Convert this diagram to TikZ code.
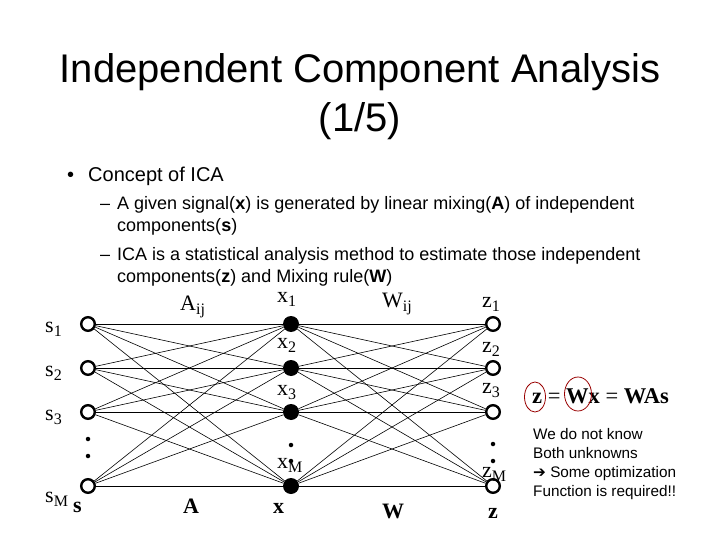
\documentclass[tikz,border=0pt]{standalone}
\usepackage{fontspec}
\setmainfont{Liberation Sans}
\newfontfamily\timesfont{Liberation Serif}
\newfontfamily\symfont{DejaVu Sans}
\usetikzlibrary{shapes.geometric, positioning}

\newcommand\lowsub[2]{#1\raisebox{-4pt}{\fontsize{16}{16}\selectfont #2}}

\begin{document}
\begin{tikzpicture}[
    x=1pt, y=-1pt,
    node distance=44pt and 203pt, on grid,
    srcnode/.style={circle, draw, line width=2.4pt, fill=white, minimum size=13.6pt, inner sep=0pt},
    mixnode/.style={circle, fill=black, minimum size=16pt, inner sep=0pt},
    vdot/.style={circle, fill=black, minimum size=4.5pt, inner sep=0pt},
    link/.style={line width=0.6pt},
    sym/.style={anchor=base west, inner sep=0pt, font=\timesfont\fontsize{22}{22}\selectfont},
    vec/.style={anchor=base west, inner sep=0pt, font=\timesfont\bfseries\fontsize{22}{22}\selectfont},
    line/.style={anchor=base west, inner sep=0pt, font=\fontsize{18}{21}\selectfont},
    ring/.style={ellipse, draw=red!60!black, line width=0.8pt, inner sep=0pt}
]
    \path[fill=white] (0,0) rectangle (720,540);

    % title and bullets
    \node[anchor=base, inner sep=0pt, font=\fontsize{40}{48}\selectfont] (title1) at (360,83) {Independent Component Analysis};
    \node[anchor=base, inner sep=0pt, font=\fontsize{40}{48}\selectfont] (title2) at (360,132) {(1/5)};
    \node[line, font=\fontsize{20}{24}\selectfont] (bul) at (67,182) {•};
    \node[line, font=\fontsize{20}{24}\selectfont] (concept) at (88,182) {Concept of ICA};
    \node[line] (dash1) at (100,210) {–};
    \node[line] (sub1a) at (117,210) {A given signal(\textbf{x}) is generated by linear mixing(\textbf{A}) of independent};
    \node[line] (sub1b) at (117,232) {components(\textbf{s})};
    \node[line] (dash2) at (100,260) {–};
    \node[line] (sub2a) at (117,260) {ICA is a statistical analysis method to estimate those independent};
    \node[line] (sub2b) at (117,282) {components(\textbf{z}) and Mixing rule(\textbf{W})};

    % network
    \node[srcnode] (s1) at (88,324) {};
    \node[srcnode, below=of s1] (s2) {};
    \node[srcnode, below=of s2] (s3) {};
    \node[srcnode, below=74pt of s3] (sM) {};
    \node[mixnode, right=of s1] (x1) {};
    \node[mixnode, right=of s2] (x2) {};
    \node[mixnode, right=of s3] (x3) {};
    \node[mixnode, right=of sM] (xM) {};
    \node[srcnode, right=202pt of x1] (z1) {};
    \node[srcnode, right=202pt of x2] (z2) {};
    \node[srcnode, right=202pt of x3] (z3) {};
    \node[srcnode, right=202pt of xM] (zM) {};

    \foreach \a in {s1,s2,s3,sM}
        \foreach \b in {x1,x2,x3,xM}
            \draw[link] (\a) -- (\b);
    \foreach \a in {x1,x2,x3,xM}
        \foreach \b in {z1,z2,z3,zM}
            \draw[link] (\a) -- (\b);

    \node[vdot] (sdot1) at (88,439) {};
    \node[vdot] (sdot2) at (88,456) {};
    \node[vdot] (xdot1) at (291,445) {};
    \node[vdot] (xdot2) at (291,461) {};
    \node[vdot] (zdot1) at (493,444) {};
    \node[vdot] (zdot2) at (493,461) {};

    % labels
    \node[sym] (s1lbl) at (45,332) {\lowsub{s}{1}};
    \node[sym] (s2lbl) at (45,376) {\lowsub{s}{2}};
    \node[sym] (s3lbl) at (45,420) {\lowsub{s}{3}};
    \node[sym] (sMlbl) at (45,502) {\lowsub{s}{M}};
    \node[vec] (svec) at (73,512) {s};
    \node[sym] (Alabel) at (180,310) {\lowsub{A}{ij}};
    \node[vec] (Avec) at (183,513) {A};
    \node[sym] (x1lbl) at (277,302) {\lowsub{x}{1}};
    \node[sym] (x2lbl) at (277,348) {\lowsub{x}{2}};
    \node[sym] (x3lbl) at (277,395) {\lowsub{x}{3}};
    \node[sym] (xMlbl) at (277,468) {\lowsub{x}{M}};
    \node[vec] (xvec) at (273,513) {x};
    \node[sym] (Wlabel) at (382,307) {\lowsub{W}{ij}};
    \node[vec] (Wvec) at (382,518) {W};
    \node[sym] (z1lbl) at (482,307) {\lowsub{z}{1}};
    \node[sym] (z2lbl) at (482,352) {\lowsub{z}{2}};
    \node[sym] (z3lbl) at (482,393) {\lowsub{z}{3}};
    \node[sym] (zMlbl) at (482,477) {\lowsub{z}{M}};
    \node[vec] (zvec) at (488,518) {z};

    % equation and note
    \node[anchor=base west, inner sep=0pt, font=\timesfont\fontsize{22.5}{22}\selectfont] (eq) at (532,403) {\textbf{z} = \textbf{Wx} = \textbf{WAs}};
    \node[ring, minimum width=21pt, minimum height=30pt] (zring) at (535,397) {};
    \node[ring, minimum width=27pt, minimum height=34pt] (wring) at (578,394) {};
    \node[anchor=north west, inner sep=0pt, align=left, font=\fontsize{15.3}{19}\selectfont] (note) at (533,428)
        {We do not know\\Both unknowns\\{\symfont ➔} Some optimization\\Function is required!!};
\end{tikzpicture}
\end{document}
